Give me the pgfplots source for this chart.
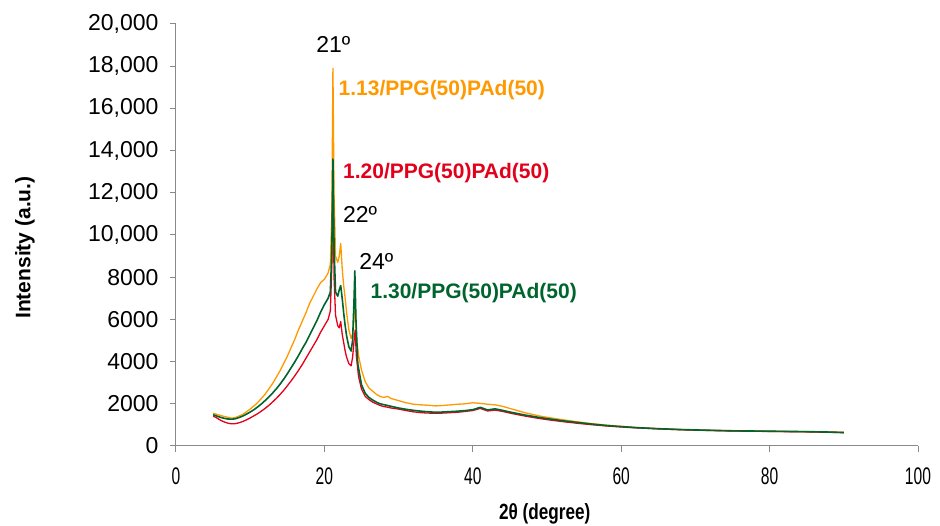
\documentclass[border=0pt]{standalone}
\usepackage{pgfplots}
\pgfplotsset{compat=1.18}
\usepackage{fontspec}
\setmainfont{Liberation Sans}
\newfontfamily\condensed[FakeStretch=0.65]{Liberation Sans}
\newfontfamily\condbold[FakeStretch=0.78]{Liberation Sans Bold}
\definecolor{orng}{RGB}{255,153,0}
\definecolor{rd}{RGB}{226,0,26}
\definecolor{grn}{RGB}{0,100,45}
\definecolor{axgray}{RGB}{137,137,137}

\pgfplotstableread{
x y
5.0 1550
5.5 1500
6.0 1450
6.5 1400
7.0 1360
7.5 1320
8.0 1350
8.5 1420
9.0 1500
9.5 1620
10.0 1750
10.5 1900
11.0 2050
11.5 2250
12.0 2450
12.5 2700
13.0 2950
13.5 3250
14.0 3550
14.5 3900
15.0 4250
15.5 4650
16.0 5050
16.5 5500
17.0 5900
17.5 6300
18.0 6750
18.5 7100
19.0 7450
19.5 7750
20.0 7900
20.5 8200
20.8 8600
21.0 11000
21.15 17900
21.3 12000
21.5 9000
21.8 8700
22.0 9000
22.2 9600
22.4 8400
22.6 7600
22.8 7000
23.0 6300
23.3 5500
23.6 5100
23.8 5300
24.0 6000
24.15 6600
24.3 5200
24.6 4300
25.0 3600
25.5 3050
26.0 2750
26.5 2600
27.0 2450
27.5 2350
28.0 2300
28.5 2350
29.0 2250
30.0 2150
31.0 2050
32.0 1980
33.0 1950
34.0 1930
35.0 1900
36.0 1920
37.0 1950
38.0 1980
39.0 2000
40.0 2050
41.0 2020
42.0 1980
43.0 1950
44.0 1880
45.0 1780
46.0 1680
47.0 1580
48.0 1500
49.0 1420
50.0 1360
52.0 1250
54.0 1150
56.0 1060
58.0 990
60.0 930
62.0 880
65.0 820
68.0 780
70.0 760
75.0 720
80.0 700
85.0 680
88.0 660
90.0 650
}\orange

\pgfplotstableread{
x y
5.0 1420
5.5 1330
6.0 1220
6.5 1140
7.0 1080
7.5 1050
8.0 1060
8.5 1100
9.0 1160
9.5 1240
10.0 1330
10.5 1430
11.0 1530
11.5 1650
12.0 1780
12.5 1920
13.0 2080
13.5 2250
14.0 2430
14.5 2630
15.0 2850
15.5 3080
16.0 3320
16.5 3580
17.0 3850
17.5 4150
18.0 4450
18.5 4750
19.0 5050
19.5 5400
20.0 5700
20.5 6000
20.8 6400
21.0 8500
21.15 13200
21.3 8000
21.5 6200
21.8 5700
22.0 5600
22.2 5900
22.4 5300
22.6 4900
22.8 4500
23.0 4200
23.3 3900
23.6 3800
23.8 4200
24.0 5000
24.15 5500
24.3 4300
24.6 3300
25.0 2700
25.5 2350
26.0 2200
26.5 2080
27.0 2000
27.5 1920
28.0 1870
28.5 1840
29.0 1800
30.0 1750
31.0 1680
32.0 1620
33.0 1580
34.0 1560
35.0 1550
36.0 1560
37.0 1580
38.0 1600
39.0 1640
40.0 1680
41.0 1780
42.0 1660
43.0 1700
44.0 1640
45.0 1560
46.0 1490
47.0 1420
48.0 1360
49.0 1300
50.0 1250
52.0 1160
54.0 1080
56.0 1010
58.0 950
60.0 900
62.0 860
65.0 810
68.0 770
70.0 750
75.0 710
80.0 690
85.0 670
88.0 650
90.0 630
}\red

\pgfplotstableread{
x y
5.0 1480
5.5 1420
6.0 1360
6.5 1310
7.0 1280
7.5 1270
8.0 1290
8.5 1350
9.0 1420
9.5 1510
10.0 1610
10.5 1720
11.0 1850
11.5 1990
12.0 2150
12.5 2320
13.0 2500
13.5 2700
14.0 2920
14.5 3160
15.0 3420
15.5 3700
16.0 3980
16.5 4280
17.0 4600
17.5 4900
18.0 5250
18.5 5600
19.0 5950
19.5 6350
20.0 6700
20.5 7000
20.8 7300
21.0 9200
21.15 13600
21.3 9500
21.5 7300
21.8 7100
22.0 7400
22.2 7600
22.4 7000
22.6 6300
22.8 5700
23.0 5200
23.3 4700
23.6 4500
23.8 5000
24.0 7000
24.1 8300
24.25 6000
24.5 3900
25.0 2900
25.5 2500
26.0 2300
26.5 2180
27.0 2080
27.5 2000
28.0 1960
28.5 1920
29.0 1880
30.0 1800
31.0 1740
32.0 1690
33.0 1650
34.0 1620
35.0 1600
36.0 1610
37.0 1630
38.0 1650
39.0 1680
40.0 1720
41.0 1830
42.0 1710
43.0 1760
44.0 1690
45.0 1610
46.0 1540
47.0 1470
48.0 1410
49.0 1350
50.0 1300
52.0 1200
54.0 1120
56.0 1040
58.0 970
60.0 920
62.0 870
65.0 820
68.0 780
70.0 760
75.0 720
80.0 700
85.0 680
88.0 660
90.0 640
}\green

\begin{document}
\begin{tikzpicture}
\useasboundingbox (-176pt,-80pt) rectangle (764pt,446pt);
\begin{axis}[
  at={(0,0)}, anchor=south west,
  scale only axis,
  width=742pt, height=422pt,
  xmin=0, xmax=100, ymin=0, ymax=20000,
  scaled y ticks=false, scaled x ticks=false,
  axis x line=bottom, axis y line=left,
  axis line style={-, axgray, line width=1pt},
  tick style={axgray, line width=1pt},
  tick align=outside,
  major tick length=6pt,
  xtick={0,20,40,60,80,100},
  ytick={0,2000,4000,6000,8000,10000,12000,14000,16000,18000,20000},
  yticklabels={0,2000,4000,6000,8000,{10,000},{12,000},{14,000},{16,000},{18,000},{20,000}},
  xticklabels={0,20,40,60,80,100},
  yticklabel style={font=\fontsize{23}{26}\selectfont, xshift=-8pt},
  xticklabel style={font=\condensed\fontsize{24}{26}\selectfont, yshift=-12pt},
  every axis y label/.style={at={(axis description cs:-0.2035,0.47)}, rotate=90, anchor=center, font=\bfseries\fontsize{21}{24}\selectfont},
  every axis x label/.style={at={(axis description cs:0.497,-0.16)}, anchor=center, font=\condbold\fontsize{22}{24}\selectfont},
  ylabel={Intensity (a.u.)},
  xlabel={2θ (degree)},
  clip=false,
]
\addplot[orng, line width=1.3pt, line join=round] table[x=x,y=y] {\orange};
\addplot[rd, line width=1.3pt, line join=round] table[x=x,y=y] {\red};
\addplot[grn, line width=1.6pt, line join=round] table[x=x,y=y] {\green};
\node[font=\fontsize{23}{26}\selectfont] at (axis cs:21.2,19050) {21º};
\node[font=\fontsize{23}{26}\selectfont] at (axis cs:24.8,10950) {22º};
\node[font=\fontsize{23}{26}\selectfont] at (axis cs:27.0,8750) {24º};
\node[anchor=west, inner sep=0pt, text=orng, font=\bfseries\fontsize{21}{24}\selectfont] at (axis cs:21.9,16850) {1.13/PPG(50)PAd(50)};
\node[anchor=west, inner sep=0pt, text=rd, font=\bfseries\fontsize{21}{24}\selectfont] at (axis cs:22.5,12950) {1.20/PPG(50)PAd(50)};
\node[anchor=west, inner sep=0pt, text=grn, font=\bfseries\fontsize{21}{24}\selectfont] at (axis cs:26.2,7250) {1.30/PPG(50)PAd(50)};
\end{axis}
\end{tikzpicture}
\end{document}
